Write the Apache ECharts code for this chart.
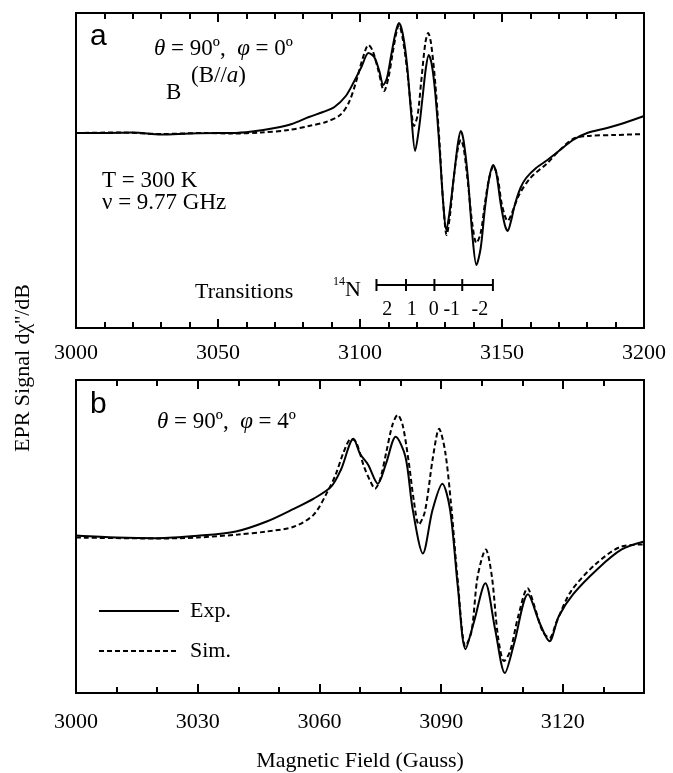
<!DOCTYPE html>
<html>
<head>
<meta charset="utf-8">
<script src="https://cdn.jsdelivr.net/npm/echarts@6/dist/echarts.min.js"></script>
<style>
  html, body { margin: 0; padding: 0; background: #fff; }
  #graph1 { width: 673px; height: 773px; }
</style>
</head>
<body>
<div id="graph1"></div>
<script>
// panel a : theta=90, phi=0  -- [field (G), signal (a.u.)]
var expA = [[3000,0],[3010,0],[3020,0.5],[3030,-1.5],[3040,-0.5],[3050,0],[3055,0],[3062,1.5],[3070,5],[3076,9],
  [3082,16],[3087,21],[3091,26],[3095,37],[3098,52],[3100.5,66],[3103,80],[3105,76],[3106.8,62],[3108.2,48],
  [3109.5,55],[3111,78],[3112.5,100],[3113.7,110],[3115,100],[3116.5,70],[3118,20],[3119.4,-18],[3120.8,5],[3122,35],
  [3123.2,65],[3124.2,78],[3125.3,68],[3126.5,40],[3128,-15],[3129.3,-70],[3130.4,-97],[3131.5,-80],[3133,-45],[3134.5,-10],
  [3135.5,2],[3136.5,-8],[3138,-45],[3139.5,-100],[3141,-132],[3142.5,-115],[3144,-75],[3145.5,-45],[3146.9,-32],[3148,-40],
  [3149.5,-70],[3151,-92],[3152,-98],[3153,-90],[3154.5,-72],[3156.5,-55],[3158.5,-45],[3162,-35],[3166,-27],[3170,-18],
  [3175,-7],[3180,0],[3187,5],[3193,10],[3200,17]];
var simA = [[3000,0],[3015,0.5],[3030,-1],[3045,0],[3055,-0.5],[3065,0.5],[3075,3],[3082,7],[3088,11],[3093,18],
  [3096,30],[3098.5,50],[3101,75],[3103,88],[3104.5,82],[3106.5,62],[3108.5,42],[3110,55],[3111.5,80],[3113,103],
  [3113.7,108],[3115,95],[3116.5,65],[3118,25],[3119,7],[3120.3,18],[3121.5,50],[3123,90],[3124,100],[3125,90],
  [3126.5,50],[3128,-10],[3129.3,-70],[3130.5,-102],[3131.7,-82],[3133,-45],[3134.5,-15],[3135.5,-7],[3136.5,-15],[3138,-50],
  [3139.5,-90],[3141,-110],[3142.5,-100],[3144,-70],[3145.5,-45],[3147,-33],[3148.5,-45],[3150,-72],[3152,-88],[3153.5,-80],
  [3156,-62],[3160,-45],[3166,-30],[3170,-18],[3175,-6],[3180,-3],[3190,-2],[3200,-1]];

// panel b : theta=90, phi=4
var expB = [[3000,1],[3010,-1],[3020,-1.7],[3030,0.7],[3039.4,5],[3047,15],[3053.8,28],[3058.6,38],[3062.9,50],[3065.3,67],
  [3068.4,98],[3070,83],[3072,72],[3074.4,53],[3076.4,73],[3078.8,100],[3081.2,80],[3083,27],[3085.5,-17],[3087.9,27],
  [3090.3,53],[3092.2,27],[3094.1,-50],[3096,-113],[3098,-87],[3100.9,-47],[3103.3,-93],[3105.7,-137],[3108,-107],[3111.4,-58],
  [3114.3,-87],[3116.7,-105],[3119,-80],[3122.5,-58],[3128.7,-32],[3134.5,-13],[3140,-5]];
var simB = [[3000,-1],[3020,-2],[3030,-1],[3040,2],[3047,5],[3053.8,10],[3058.6,22],[3062,45],[3064,62],[3066,85],
  [3067.8,98],[3069,95],[3071,70],[3072.6,55],[3073.7,48],[3075,58],[3076.5,85],[3078,112],[3079.3,122],[3080.5,112],
  [3082,75],[3083.3,35],[3084.5,12],[3086,25],[3088,80],[3089.5,108],[3091,85],[3092.5,30],[3094,-40],[3096,-110],
  [3097.5,-95],[3099,-40],[3101,-13],[3102.5,-40],[3104,-100],[3105.5,-125],[3107,-115],[3109,-80],[3111.3,-52],[3113,-70],
  [3115,-95],[3116.7,-102],[3118.5,-85],[3122,-55],[3128,-28],[3134.5,-10],[3140,-8]];

// 14N hyperfine transition sticks (panel a)
var stickPos = [3105.8, 3116.2, 3126.2, 3136, 3146.8];
var stickY = -152;
var transLabels = ['2', '1', '0', '-1', '-2'];
var transLabelPos = [3109.6, 3118.2, 3126, 3132.3, 3142.2];
var transLabelY = -177;

var serif = 'Liberation Serif';

function fieldAxes(grid, min, max, major, showMax) {
    var base = {
        gridIndex: grid, type: 'value', min: min, max: max,
        axisLine: {show: true, onZero: false, lineStyle: {color: '#000', width: 2}},
        splitLine: {show: false}
    };
    var majBottom = Object.assign({}, base, {
        position: 'bottom', interval: major,
        axisTick: {inside: true, length: 9, lineStyle: {color: '#000', width: 2}},
        axisLabel: {color: '#000', fontFamily: serif, fontSize: 22, margin: grid == 0 ? 14 : 18, showMaxLabel: showMax,
            formatter: function (v) { return String(v); }},
        name: grid == 1 ? 'Magnetic Field (Gauss)' : '',
        nameLocation: 'middle', nameGap: 57,
        nameTextStyle: {color: '#000', fontFamily: serif, fontSize: 22}
    });
    var minBottom = Object.assign({}, base, {
        position: 'bottom', interval: 10,
        axisTick: {inside: true, length: 6, lineStyle: {color: '#000', width: 2}},
        axisLabel: {show: false}
    });
    var majTop = Object.assign({}, base, {
        position: 'top', interval: major,
        axisTick: {inside: true, length: 9, lineStyle: {color: '#000', width: 2}},
        axisLabel: {show: false}
    });
    var minTop = Object.assign({}, base, {
        position: 'top', interval: 10,
        axisTick: {inside: true, length: 6, lineStyle: {color: '#000', width: 2}},
        axisLabel: {show: false}
    });
    return [majBottom, minBottom, majTop, minTop];
}

function sigAxes(grid, min, max) {
    var base = {
        gridIndex: grid, type: 'value', min: min, max: max,
        axisLine: {show: true, onZero: false, lineStyle: {color: '#000', width: 2}},
        axisTick: {show: false}, axisLabel: {show: false}, splitLine: {show: false}
    };
    return [Object.assign({}, base, {position: 'left'}), Object.assign({}, base, {position: 'right'})];
}

var myChart = echarts.init(document.getElementById('graph1'));

var lineSolid = {color: '#000', width: 2, type: 'solid'};
var lineDash = {color: '#000', width: 2, type: [5, 3]};
var ital = {i: {fontStyle: 'italic', fontFamily: serif, fontSize: 23}};

option = {
    backgroundColor: '#fff',
    animation: false,
    grid: [
        {left: 76, top: 13, width: 568, height: 315},
        {left: 76, top: 380, width: 568, height: 314}
    ],
    xAxis: fieldAxes(0, 3000, 3200, 50, true).concat(fieldAxes(1, 3000, 3140, 30, false)),
    yAxis: sigAxes(0, -195, 120).concat(sigAxes(1, -157, 157)),
    legend: {
        orient: 'vertical', left: 98, top: 600, padding: 0,
        itemWidth: 80, itemHeight: 20, itemGap: 18,
        data: ['Exp.', 'Sim.'],
        itemStyle: {opacity: 0},
        textStyle: {color: '#000', fontFamily: serif, fontSize: 22, padding: [0, 0, 0, 6]}
    },
    series: [
        {name: 'Exp.', type: 'line', xAxisIndex: 0, yAxisIndex: 0, data: expA, symbol: 'none', smooth: 0.3, lineStyle: lineSolid, itemStyle: {color: '#000'}, z: 3},
        {name: 'Sim.', type: 'line', xAxisIndex: 0, yAxisIndex: 0, data: simA, symbol: 'none', smooth: 0.3, lineStyle: lineDash, itemStyle: {color: '#000'}, z: 2},
        {name: 'Exp.', type: 'line', xAxisIndex: 4, yAxisIndex: 2, data: expB, symbol: 'none', smooth: 0.3, lineStyle: lineSolid, itemStyle: {color: '#000'}, z: 3},
        {name: 'Sim.', type: 'line', xAxisIndex: 4, yAxisIndex: 2, data: simB, symbol: 'none', smooth: 0.3, lineStyle: lineDash, itemStyle: {color: '#000'}, z: 2},
        // stick diagram
        {name: 'sticks', type: 'line', xAxisIndex: 0, yAxisIndex: 0, symbol: 'none', silent: true,
            data: [[stickPos[0], stickY], [stickPos[stickPos.length - 1], stickY]],
            lineStyle: {color: '#000', width: 2}},
        {name: 'stickTicks', type: 'scatter', xAxisIndex: 0, yAxisIndex: 0, silent: true,
            symbol: 'rect', symbolSize: [2, 12], itemStyle: {color: '#000', opacity: 1},
            data: stickPos.map(function (p) { return [p, stickY]; })},
        {name: 'stickLabels', type: 'scatter', xAxisIndex: 0, yAxisIndex: 0, silent: true,
            symbolSize: 0, itemStyle: {opacity: 1},
            data: transLabelPos.map(function (p, i) { return {value: [p, transLabelY], label: {formatter: transLabels[i]}}; }),
            label: {show: true, position: 'inside', color: '#000', textBorderWidth: 0, fontFamily: serif, fontSize: 20}}
    ],
    graphic: [
        {type: 'text', left: 90, top: 22, style: {text: 'a', font: '30px "Liberation Sans"', fill: '#000'}},
        {type: 'text', left: 154, top: 37, style: {text: '{i|θ} = 90º,  {i|φ} = 0º', font: '23px "Liberation Serif"', fill: '#000', rich: ital}},
        {type: 'text', left: 191, top: 64, style: {text: '(B//{i|a})', font: '23px "Liberation Serif"', fill: '#000', rich: ital}},
        {type: 'text', left: 166, top: 81, style: {text: 'B', font: '23px "Liberation Serif"', fill: '#000'}},
        {type: 'text', left: 102, top: 169, style: {text: 'T = 300 K', font: '23px "Liberation Serif"', fill: '#000'}},
        {type: 'text', left: 102, top: 191, style: {text: 'ν = 9.77 GHz', font: '23px "Liberation Serif"', fill: '#000'}},
        {type: 'text', left: 195, top: 281, style: {text: 'Transitions', font: '22px "Liberation Serif"', fill: '#000'}},
        {type: 'text', left: 333, top: 276, style: {text: '14', font: '12px "Liberation Serif"', fill: '#000'}},
        {type: 'text', left: 345, top: 279, style: {text: 'N', font: '22px "Liberation Serif"', fill: '#000'}},
        {type: 'text', left: 90, top: 390, style: {text: 'b', font: '30px "Liberation Sans"', fill: '#000'}},
        {type: 'text', left: 157, top: 410, style: {text: '{i|θ} = 90º,  {i|φ} = 4º', font: '23px "Liberation Serif"', fill: '#000', rich: ital}},
        {type: 'text', x: 23, y: 368, rotation: Math.PI / 2,
            style: {text: 'EPR Signal dχ\'\'/dB', font: '22px "Liberation Serif"', fill: '#000', align: 'center', verticalAlign: 'middle'}}
    ]
};

if (option && typeof option === "object") {
    myChart.setOption(option, true);
}
</script>
</body>
</html>
